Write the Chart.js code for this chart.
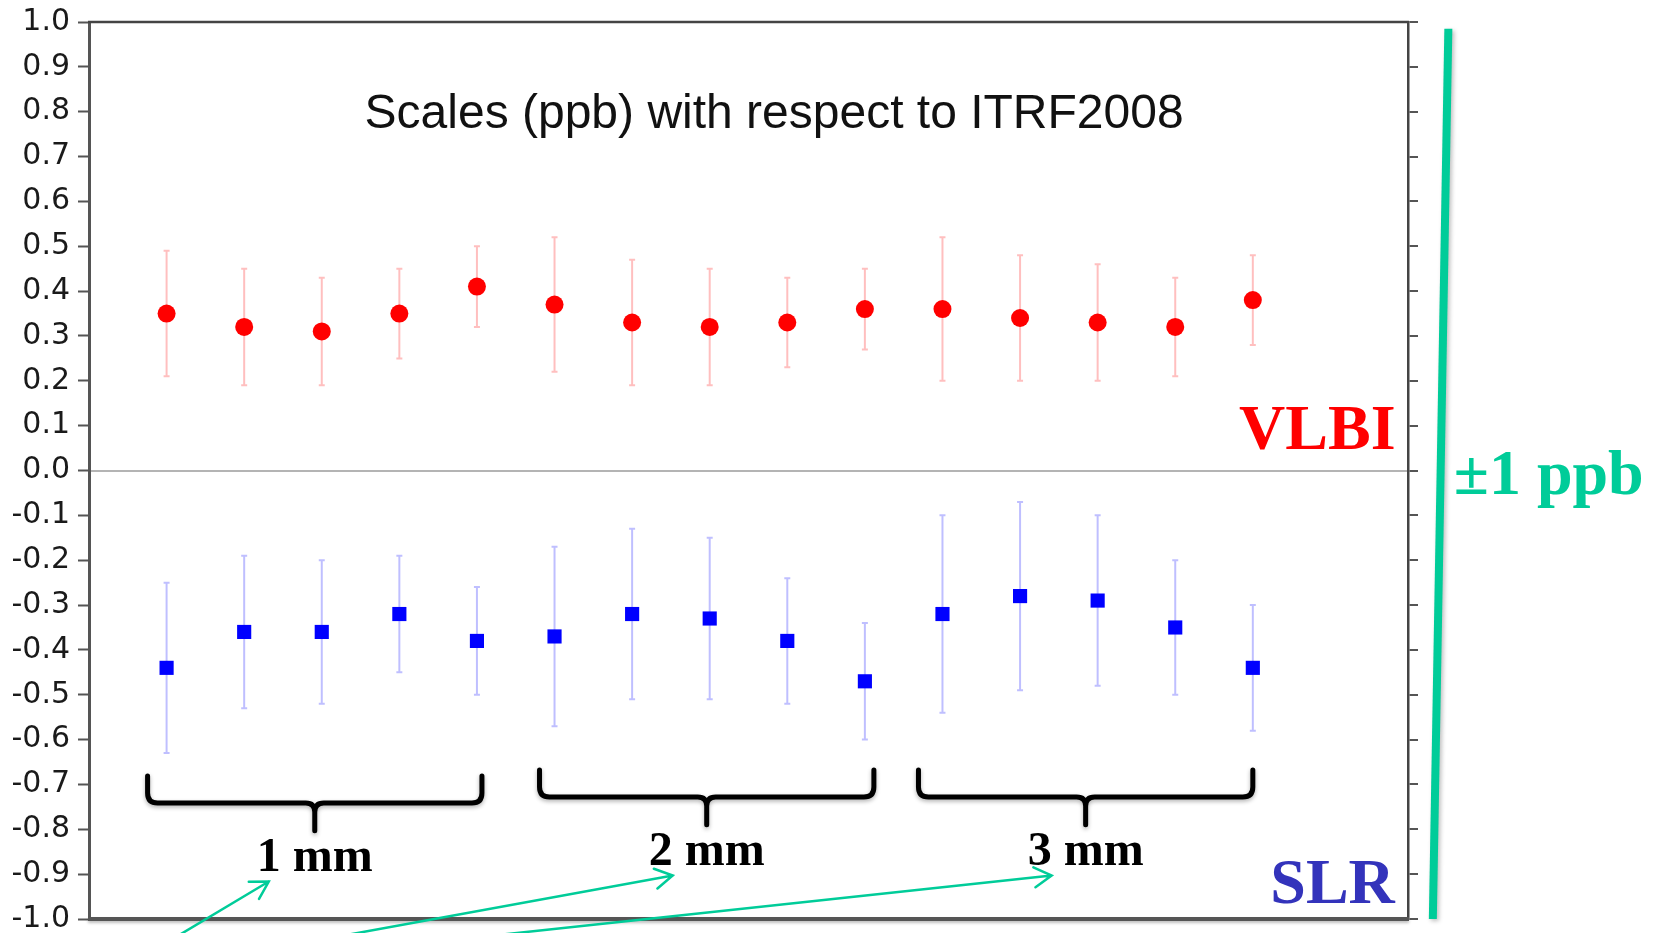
<!DOCTYPE html>
<html>
<head>
<meta charset="utf-8">
<title>Scales (ppb) with respect to ITRF2008</title>
<script src="https://cdn.jsdelivr.net/npm/chart.js@4.4.0/dist/chart.umd.min.js"></script>
<style>
  html, body { margin: 0; padding: 0; background: #fff; }
</style>
</head>
<body>
<canvas id="scalesChart" width="1654" height="933"></canvas>
<script>
// 15 solutions, three groups of five (1 mm, 2 mm, 3 mm)
const solutions = [1, 2, 3, 4, 5, 6, 7, 8, 9, 10, 11, 12, 13, 14, 15];

const vlbiScale = [0.35, 0.32, 0.31, 0.35, 0.41, 0.37, 0.33, 0.32, 0.33, 0.36, 0.36, 0.34, 0.33, 0.32, 0.38];
const vlbiHigh  = [0.49, 0.45, 0.43, 0.45, 0.50, 0.52, 0.47, 0.45, 0.43, 0.45, 0.52, 0.48, 0.46, 0.43, 0.48];
const vlbiLow   = [0.21, 0.19, 0.19, 0.25, 0.32, 0.22, 0.19, 0.19, 0.23, 0.27, 0.20, 0.20, 0.20, 0.21, 0.28];

const slrScale = [-0.44, -0.36, -0.36, -0.32, -0.38, -0.37, -0.32, -0.33, -0.38, -0.47, -0.32, -0.28, -0.29, -0.35, -0.44];
const slrHigh  = [-0.25, -0.19, -0.20, -0.19, -0.26, -0.17, -0.13, -0.15, -0.24, -0.34, -0.10, -0.07, -0.10, -0.20, -0.30];
const slrLow   = [-0.63, -0.53, -0.52, -0.45, -0.50, -0.57, -0.51, -0.51, -0.52, -0.60, -0.54, -0.49, -0.48, -0.50, -0.58];

const groupLabels = ['1 mm', '2 mm', '3 mm'];
const groupFirst = [1, 6, 11];
const groupLast = [5, 10, 15];

const yMin = -1.0;
const yMax = 1.0;
const yStep = 0.1;
const xMin = 0;
const xMax = 17;

const GREEN = '#00cc99';

// error bars drawn under the markers
const errorBars = {
  id: 'errorBars',
  beforeDatasetsDraw(chart) {
    const { ctx, scales: { x, y } } = chart;
    chart.data.datasets.forEach(ds => {
      ctx.save();
      ctx.strokeStyle = ds.errColor;
      ctx.lineWidth = 2;
      ds.data.forEach((pt, i) => {
        const px = x.getPixelForValue(pt.x);
        const top = y.getPixelForValue(ds.errHigh[i]);
        const bot = y.getPixelForValue(ds.errLow[i]);
        ctx.beginPath();
        ctx.moveTo(px, top); ctx.lineTo(px, bot);
        ctx.moveTo(px - 3, top); ctx.lineTo(px + 3, top);
        ctx.moveTo(px - 3, bot); ctx.lineTo(px + 3, bot);
        ctx.stroke();
      });
      ctx.restore();
    });
  }
};

// top and bottom lines of the frame (left/right come from the axes)
const frame = {
  id: 'frame',
  beforeDatasetsDraw(chart) {
    const { ctx, chartArea: a } = chart;
    ctx.save();
    ctx.strokeStyle = '#444';
    ctx.lineWidth = 2.5;
    ctx.beginPath();
    ctx.moveTo(a.left - 1, a.top); ctx.lineTo(a.right + 1, a.top);
    ctx.stroke();
    ctx.strokeStyle = '#555';
    ctx.lineWidth = 4;
    ctx.shadowColor = 'rgba(0,0,0,0.25)';
    ctx.shadowBlur = 3;
    ctx.shadowOffsetY = 2;
    ctx.beginPath();
    ctx.moveTo(a.left - 1, a.bottom); ctx.lineTo(a.right + 1, a.bottom);
    ctx.stroke();
    ctx.restore();
  }
};

function arrow(ctx, x0, y0, x1, y1) {
  const ang = Math.atan2(y1 - y0, x1 - x0);
  const len = 20, spread = Math.PI / 6;
  ctx.beginPath();
  ctx.moveTo(x0, y0); ctx.lineTo(x1, y1);
  ctx.moveTo(x1 - len * Math.cos(ang - spread), y1 - len * Math.sin(ang - spread));
  ctx.lineTo(x1, y1);
  ctx.lineTo(x1 - len * Math.cos(ang + spread), y1 - len * Math.sin(ang + spread));
  ctx.stroke();
}

// slide annotations: title, brackets, labels, arrows, green bar
const annotations = {
  id: 'annotations',
  afterDraw(chart) {
    const { ctx, scales: { x, y } } = chart;
    const at = (xv, yv) => [x.getPixelForValue(xv), y.getPixelForValue(yv)];
    ctx.save();

    // title inside the plot
    let p = at(8.83, 0.763);
    ctx.font = '48px "Liberation Sans", Arial, sans-serif';
    ctx.fillStyle = '#111';
    ctx.textAlign = 'center';
    ctx.textBaseline = 'alphabetic';
    ctx.fillText('Scales (ppb) with respect to ITRF2008', p[0], p[1]);

    // technique labels
    ctx.font = 'bold 64px "Liberation Serif", "Times New Roman", serif';
    ctx.textAlign = 'right';
    ctx.fillStyle = '#ff0000';
    p = at(16.84, 0.048);
    ctx.fillText('VLBI', p[0], p[1]);
    ctx.fillStyle = '#3333bb';
    p = at(16.83, -0.964);
    ctx.fillText('SLR', p[0], p[1]);

    // green range bar and label
    ctx.fillStyle = GREEN;
    ctx.textAlign = 'left';
    p = at(17.59, -0.0515);
    ctx.fillText('\u00b11 ppb', p[0], p[1]);
    ctx.save();
    ctx.strokeStyle = GREEN;
    ctx.lineWidth = 8;
    ctx.shadowColor = 'rgba(0,0,0,0.25)';
    ctx.shadowBlur = 4;
    ctx.shadowOffsetX = 2;
    ctx.shadowOffsetY = 2;
    const g0 = at(17.52, 0.985), g1 = at(17.32, -1.0);
    ctx.beginPath(); ctx.moveTo(g0[0], g0[1]); ctx.lineTo(g1[0], g1[1]); ctx.stroke();
    ctx.restore();

    // group brackets and labels
    const shift = [0, 4, -5];
    const centres = [];
    groupLabels.forEach((label, i) => {
      const dy = i === 0 ? 6 : 0;
      const bx0 = x.getPixelForValue(groupFirst[i]) - 19 + shift[i];
      const bx1 = x.getPixelForValue(groupLast[i]) + 5 + shift[i];
      const cx = (bx0 + bx1) / 2;
      centres.push(cx);
      const top = y.getPixelForValue(-0.668) + dy;
      const mid = y.getPixelForValue(-0.728) + dy;
      const tip = y.getPixelForValue(-0.790) + dy;
      const r = 10, r2 = 9;
      ctx.save();
      ctx.strokeStyle = '#000';
      ctx.lineWidth = 5;
      ctx.lineCap = 'round';
      ctx.lineJoin = 'round';
      ctx.shadowColor = 'rgba(0,0,0,0.3)';
      ctx.shadowBlur = 4;
      ctx.shadowOffsetY = 2;
      ctx.beginPath();
      ctx.moveTo(bx0, top);
      ctx.lineTo(bx0, mid - r);
      ctx.quadraticCurveTo(bx0, mid, bx0 + r, mid);
      ctx.lineTo(cx - r2, mid);
      ctx.quadraticCurveTo(cx, mid, cx, mid + r2);
      ctx.lineTo(cx, tip);
      ctx.moveTo(cx, mid + r2);
      ctx.quadraticCurveTo(cx, mid, cx + r2, mid);
      ctx.lineTo(bx1 - r, mid);
      ctx.quadraticCurveTo(bx1, mid, bx1, mid - r);
      ctx.lineTo(bx1, top);
      ctx.stroke();
      ctx.restore();

      ctx.font = 'bold 48px "Liberation Serif", "Times New Roman", serif';
      ctx.fillStyle = '#000';
      ctx.textAlign = 'center';
      const base = y.getPixelForValue(-0.879) + dy;
      ctx.fillText(label, cx, base);
    });

    // green arrows pointing at the group labels
    const tails = [1.17, 3.34, 5.31];
    ctx.strokeStyle = GREEN;
    ctx.lineWidth = 2.5;
    ctx.lineCap = 'round';
    ctx.font = 'bold 48px "Liberation Serif", "Times New Roman", serif';
    groupLabels.forEach((label, i) => {
      const dy = i === 0 ? 6 : 0;
      const w = ctx.measureText(label).width;
      const tipX = centres[i] - w / 2 + (i === 0 ? 12 : 24);
      const tipY = y.getPixelForValue(-0.903) + dy;
      arrow(ctx, x.getPixelForValue(tails[i]), y.getPixelForValue(-1.035), tipX, tipY);
    });

    ctx.restore();
  }
};

const tickFont = { family: '"DejaVu Sans", "Liberation Sans", sans-serif', size: 30 };

const ctx = document.getElementById('scalesChart').getContext('2d');
new Chart(ctx, {
  type: 'scatter',
  data: {
    datasets: [
      {
        label: 'VLBI',
        data: solutions.map((s, i) => ({ x: s, y: vlbiScale[i] })),
        errHigh: vlbiHigh,
        errLow: vlbiLow,
        errColor: 'rgba(255, 0, 0, 0.25)',
        pointStyle: 'circle',
        pointRadius: 9,
        pointHoverRadius: 10,
        backgroundColor: '#ff0000',
        borderColor: '#ff0000',
        borderWidth: 0
      },
      {
        label: 'SLR',
        data: solutions.map((s, i) => ({ x: s, y: slrScale[i] })),
        errHigh: slrHigh,
        errLow: slrLow,
        errColor: 'rgba(0, 0, 255, 0.25)',
        pointStyle: 'rect',
        pointRadius: 10,
        pointHoverRadius: 11,
        backgroundColor: '#0000ff',
        borderColor: '#0000ff',
        borderWidth: 0
      }
    ]
  },
  options: {
    responsive: false,
    animation: false,
    devicePixelRatio: 1,
    layout: { padding: { left: 0, right: 235, top: 22, bottom: 14 } },
    plugins: {
      legend: { display: false },
      title: { display: false }
    },
    scales: {
      x: {
        type: 'linear',
        min: xMin,
        max: xMax,
        display: false
      },
      y: {
        position: 'left',
        min: yMin,
        max: yMax,
        ticks: {
          stepSize: yStep,
          font: tickFont,
          color: '#1a1a1a',
          padding: 8,
          callback: v => (Math.abs(v) < 1e-9 ? 0 : v).toFixed(1)
        },
        grid: {
          drawOnChartArea: false,
          drawTicks: true,
          tickLength: 11,
          tickWidth: 2,
          tickColor: '#555'
        },
        border: { color: '#555', width: 3 },
        afterFit(scale) {
          scale.width = 89;
          scale.paddingTop = 0;
          scale.paddingBottom = 0;
        }
      },
      yRight: {
        position: 'right',
        min: yMin,
        max: yMax,
        ticks: { stepSize: yStep, display: false },
        grid: {
          drawOnChartArea: true,
          color: c => (c.tick && Math.abs(c.tick.value) < 1e-9 ? '#b4b4b4' : 'rgba(0,0,0,0)'),
          lineWidth: 2,
          drawTicks: true,
          tickLength: 10,
          tickWidth: 2,
          tickColor: '#555'
        },
        border: { color: '#444', width: 2.5 },
        afterFit(scale) {
          scale.width = 11;
          scale.paddingTop = 0;
          scale.paddingBottom = 0;
        }
      }
    }
  },
  plugins: [frame, errorBars, annotations]
});
</script>
</body>
</html>
